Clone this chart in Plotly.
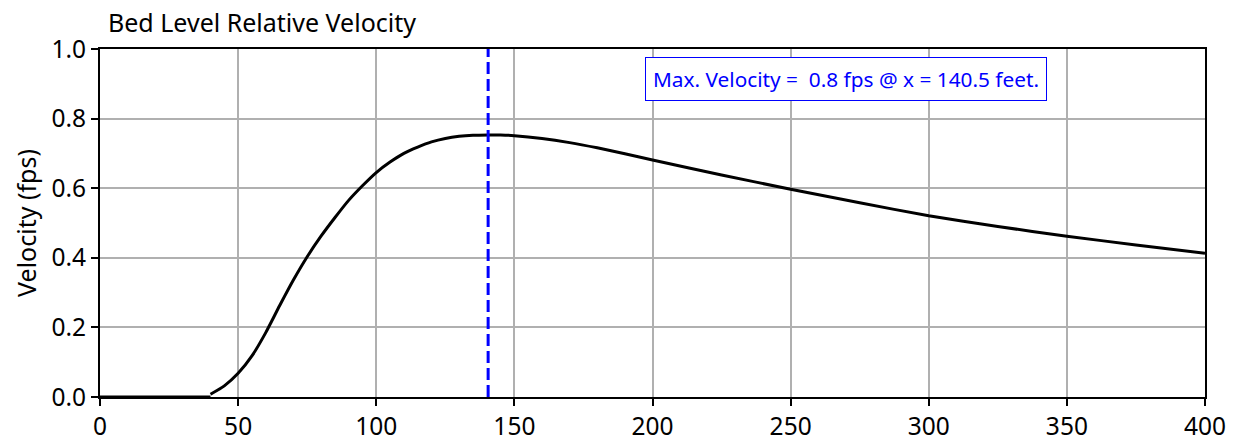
import plotly.graph_objects as go

# Data
flat_x = [0, 40]
flat_v = [0, 0]
x_ft = [40, 45, 50, 55, 60, 65, 70, 75, 80, 85, 90, 95, 100, 105, 110, 115, 120, 125,
        130, 135, 140.5, 145, 150, 160, 170, 180, 190, 200, 225, 250, 275, 300, 325,
        350, 375, 400]
velocity = [0.008, 0.032, 0.068, 0.118, 0.185, 0.262, 0.336, 0.403, 0.462, 0.515,
            0.565, 0.607, 0.645, 0.675, 0.700, 0.718, 0.733, 0.743, 0.749, 0.752, 0.753,
            0.753, 0.751, 0.743, 0.731, 0.716, 0.699, 0.681, 0.638, 0.597, 0.558, 0.521,
            0.490, 0.462, 0.437, 0.413]
max_x = 140.5
max_v_label = "0.8"
x_ticks = [0, 50, 100, 150, 200, 250, 300, 350, 400]
y_ticks = [0.0, 0.2, 0.4, 0.6, 0.8, 1.0]

FONT = "Noto Sans"

fig = go.Figure()
fig.add_trace(go.Scatter(x=flat_x, y=flat_v, mode="lines",
                         line=dict(color="black", width=3),
                         showlegend=False, hoverinfo="skip"))
fig.add_trace(go.Scatter(x=x_ft, y=velocity, mode="lines",
                         line=dict(color="black", width=3, shape="spline", smoothing=0.6),
                         showlegend=False, hoverinfo="skip"))
fig.add_trace(go.Scatter(x=[max_x, max_x], y=[0, 1], mode="lines",
                         line=dict(color="#0000ff", width=3, dash="12px,5px"),
                         showlegend=False, hoverinfo="skip"))

axis_common = dict(showline=True, linecolor="black", linewidth=2, mirror=True,
                   ticks="outside", ticklen=7, tickwidth=2, tickcolor="black",
                   showgrid=True, gridcolor="#b0b0b0", gridwidth=1.5, zeroline=False,
                   automargin=False,
                   tickfont=dict(family=FONT, size=24.5, color="black"))

fig.update_xaxes(range=[0, 400], tickvals=x_ticks, **axis_common)
fig.update_yaxes(range=[0, 1], tickvals=y_ticks, tickformat=".1f",
                 title=dict(text="Velocity (fps)", font=dict(family=FONT, size=25, color="black"),
                            standoff=8),
                 **axis_common)

fig.add_annotation(xref="paper", yref="paper", x=0.6747, y=0.9147,
                   xanchor="center", yanchor="middle",
                   text=f"Max. Velocity =  {max_v_label} fps @ x = {max_x} feet.",
                   showarrow=False, font=dict(family=FONT, size=20.8, color="#0000ff"),
                   bordercolor="#0000ff", borderwidth=1, borderpad=7, bgcolor="white")

fig.update_layout(width=1239, height=441,
                  margin=dict(l=100, r=34, t=49, b=44),
                  paper_bgcolor="white", plot_bgcolor="white",
                  title=dict(text="Bed Level Relative Velocity", x=108/1239, xanchor="left",
                             y=1 - 23/441, yanchor="middle",
                             font=dict(family=FONT, size=25, color="black")))

fig.write_html("out.html")
